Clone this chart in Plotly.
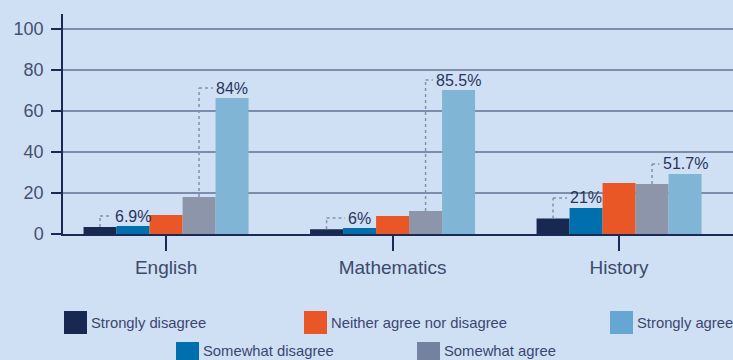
import plotly.graph_objects as go

# ---------------- data ----------------
categories = ["English", "Mathematics", "History"]
series = ["Strongly disagree", "Somewhat disagree", "Neither agree nor disagree",
          "Somewhat agree", "Strongly agree"]
strongly_disagree = [3.4, 2.3, 7.6]
somewhat_disagree = [3.9, 2.9, 12.7]
neither = [9.3, 8.8, 24.9]
somewhat_agree = [18.0, 11.2, 24.4]
strongly_agree = [66.3, 70.2, 29.3]
disagree_labels = ["6.9%", "6%", "21%"]
agree_labels = ["84%", "85.5%", "51.7%"]
y_ticks = [0, 20, 40, 60, 80, 100]

values = [strongly_disagree, somewhat_disagree, neither, somewhat_agree, strongly_agree]

# ---------------- style ----------------
bar_colors = ["#172851", "#006fad", "#ea5726", "#8c95aa", "#80b5d5"]
legend_colors = ["#172851", "#006fad", "#ea5726", "#7482a0", "#66a6d2"]
BG = "#cfe0f4"
NAVY = "#1b2a55"
SANS = "Liberation Sans, Arial, sans-serif"

W, H = 733, 360
ML, MR, MT, MB = 63, 0, 14, 126
PW, PH = W - ML - MR, H - MT - MB
X_RANGE = [-0.455, 2.503]
Y_RANGE = [0, 107.3]
BARGAP = 0.2715
N = len(series)
bw = (1 - BARGAP) / N
px_per_unit = PW / (X_RANGE[1] - X_RANGE[0])
y_per_px = (Y_RANGE[1] - Y_RANGE[0]) / PH
LABEL_SIZE = 16
LEGEND_SIZE = 14.8
LABEL_OFFSET_PX = 10

# legend item positions (pixels: swatch left, swatch top, text centre y) in series order
legend_pos = [(64, 311, 322.5), (176, 342, 351), (304, 311, 322.5), (417, 342, 351), (610, 311, 322.5)]
SW = 23


def px_x(x):
    return (x - ML) / PW


def px_y(y):
    return (MT + PH - y) / PH


def text_width(t, size):
    w = {"%": 0.889, ".": 0.278}
    return sum(w.get(c, 0.556) for c in t) * size


fig = go.Figure()
for name, vals, color in zip(series, values, bar_colors):
    fig.add_trace(go.Bar(x=categories, y=vals, name=name,
                         marker=dict(color=color, line=dict(width=0)),
                         showlegend=False, hoverinfo="x+y+name"))

shapes = []
annotations = []
for i, cat in enumerate(categories):
    for lj, rj, label in [(0, 1, disagree_labels[i]), (3, 4, agree_labels[i])]:
        xl = i + (lj - (N - 1) / 2) * bw
        xr = i + (rj - (N - 1) / 2) * bw
        y0 = values[lj][i]
        yl = values[rj][i] + LABEL_OFFSET_PX * y_per_px
        tw = text_width(label, LABEL_SIZE)
        xe = xr - (tw / 2 + 3) / px_per_unit
        dot = dict(color="#8290b0", width=1.5, dash="dot")
        shapes.append(dict(type="line", xref="x", yref="y", x0=xl, x1=xl, y0=y0, y1=yl,
                           line=dot, layer="above"))
        shapes.append(dict(type="line", xref="x", yref="y", x0=xl, x1=xe, y0=yl, y1=yl,
                           line=dot, layer="above"))
        annotations.append(dict(x=xr, y=yl, xref="x", yref="y", text=label, showarrow=False,
                                xanchor="center", yanchor="middle",
                                font=dict(family=SANS, size=LABEL_SIZE, color="#28345c")))

# manual legend
for name, col, (lx, ly, ty) in zip(series, legend_colors, legend_pos):
    shapes.append(dict(type="rect", xref="paper", yref="paper",
                       x0=px_x(lx), x1=px_x(lx + SW), y0=px_y(ly + SW), y1=px_y(ly),
                       fillcolor=col, line=dict(width=0)))
    annotations.append(dict(x=px_x(lx + SW + 3), y=px_y(ty), xref="paper", yref="paper",
                            text=name, showarrow=False, xanchor="left", yanchor="middle",
                            borderpad=0,
                            font=dict(family=SANS, size=LEGEND_SIZE, color="#3b4670")))

fig.update_layout(
    width=W, height=H,
    margin=dict(l=ML, r=MR, t=MT, b=MB, pad=0),
    paper_bgcolor=BG, plot_bgcolor=BG,
    barmode="group", bargap=BARGAP, bargroupgap=0,
    showlegend=False,
    shapes=shapes, annotations=annotations,
    xaxis=dict(range=X_RANGE, showgrid=False, zeroline=False,
               showline=True, linecolor=NAVY, linewidth=1.5,
               ticks="outside", ticklen=15, tickwidth=1.5, tickcolor=NAVY,
               tickfont=dict(family=SANS, size=19, color="#3d4a6b"),
               ticklabelstandoff=0, fixedrange=True),
    yaxis=dict(range=Y_RANGE, tickvals=y_ticks, showgrid=True, gridcolor="#7f8cab",
               gridwidth=1.5, zeroline=False,
               showline=True, linecolor=NAVY, linewidth=1.5,
               ticks="outside", ticklen=10, tickwidth=2, tickcolor=NAVY,
               tickfont=dict(family=SANS, size=18, color="#44506f"),
               ticklabelstandoff=4, fixedrange=True),
)

fig.write_html("out.html", config={"displayModeBar": False})
